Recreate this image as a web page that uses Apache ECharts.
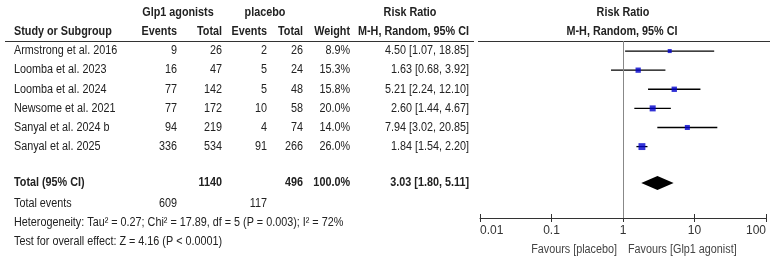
<!DOCTYPE html>
<html>
<head>
<meta charset="utf-8">
<script src="https://cdn.jsdelivr.net/npm/echarts@6/dist/echarts.min.js"></script>
<style>
  html, body { margin: 0; padding: 0; background: #fff; }
  #chart { width: 774px; height: 259px; }
</style>
</head>
<body>
<div id="chart"></div>
<script>
// 数据
const studies = ['Armstrong et al. 2016', 'Loomba et al. 2023', 'Loomba et al. 2024',
  'Newsome et al. 2021', 'Sanyal et al. 2024 b', 'Sanyal et al. 2025'];
const glpEvents = [9, 16, 77, 77, 94, 336];
const glpTotal = [26, 47, 142, 172, 219, 534];
const plaEvents = [2, 5, 5, 10, 4, 91];
const plaTotal = [26, 24, 48, 58, 74, 266];
const weights = [8.9, 15.3, 15.8, 20.0, 14.0, 26.0];
const rr = [4.50, 1.63, 5.21, 2.60, 7.94, 1.84];
const rrLow = [1.07, 0.68, 2.24, 1.44, 3.02, 1.54];
const rrHigh = [18.85, 3.92, 12.10, 4.67, 20.85, 2.20];

const totalLabel = 'Total (95% CI)';
const totalGlp = 1140;
const totalPla = 496;
const totalWeight = '100.0%';
const pooled = [1.80, 3.03, 5.11]; // low, est, high
const totalEventsGlp = 609;
const totalEventsPla = 117;
const heterogeneity = 'Heterogeneity: Tau² = 0.27; Chi² = 17.89, df = 5 (P = 0.003); I² = 72%';
const overallTest = 'Test for overall effect: Z = 4.16 (P < 0.0001)';
const tickLabels = ['0.01', '0.1', '1', '10', '100'];
const favours = ['Favours [placebo]', 'Favours [Glp1 agonist]'];

// 行位置（行号）
const totalRow = 6.9;
const eventsRow = 8;
const hetRow = 9;
const testRow = 10;

const FONT = '"Liberation Sans", Arial, sans-serif';
const NARROW = 0.9; // 模拟 Arial Narrow
const fmt = v => v.toFixed(2);

const chart = echarts.init(document.getElementById('chart'));

const ciData = studies.map((s, i) => [rrLow[i], rrHigh[i], i]);
const pointData = studies.map((s, i) => [rr[i], i, weights[i]]);

chart.setOption({
  animation: false,
  grid: { left: 480, right: 8, top: 41, bottom: 41 },
  xAxis: [{
    type: 'log', logBase: 10, min: 0.01, max: 100,
    axisLine: { onZero: false, lineStyle: { color: '#333', width: 1 } },
    axisTick: { length: 4, lineStyle: { color: '#333' } },
    splitLine: { show: false },
    axisLabel: {
      color: '#333', fontSize: 12, fontFamily: FONT, margin: 7,
      alignMinLabel: 'left', alignMaxLabel: 'right',
      formatter: v => tickLabels[Math.round(Math.log10(v)) + 2]
    }
  }, {
    type: 'log', logBase: 10, min: 0.01, max: 100, position: 'bottom',
    axisLine: { show: false, onZero: false },
    axisTick: { inside: true, length: 4, lineStyle: { color: '#333' } },
    axisLabel: { show: false }, splitLine: { show: false }
  }],
  yAxis: {
    type: 'value', inverse: true, min: -10 / 19, max: 166 / 19, show: false
  },
  series: [{
    type: 'custom',
    data: ciData,
    renderItem: (params, api) => {
      const a = api.coord([api.value(0), api.value(2)]);
      const b = api.coord([api.value(1), api.value(2)]);
      return {
        type: 'line',
        shape: { x1: a[0], y1: a[1], x2: b[0], y2: b[1] },
        style: { stroke: '#000', lineWidth: 1.3 }
      };
    },
    markLine: {
      silent: true, symbol: 'none', label: { show: false },
      lineStyle: { color: '#888', type: 'solid', width: 1 },
      data: [{ xAxis: 1 }]
    },
    z: 2
  }, {
    type: 'scatter',
    data: pointData,
    symbol: 'rect',
    symbolSize: d => 1.35 * Math.sqrt(d[2]),
    itemStyle: { color: '#0000cc' },
    z: 3
  }, {
    type: 'custom',
    data: [[pooled[0], pooled[1], pooled[2], totalRow]],
    renderItem: (params, api) => {
      const l = api.coord([api.value(0), api.value(3)]);
      const c = api.coord([api.value(1), api.value(3)]);
      const r = api.coord([api.value(2), api.value(3)]);
      const h = 7;
      return {
        type: 'polygon',
        shape: { points: [[l[0], l[1]], [c[0], c[1] - h], [r[0], r[1]], [c[0], c[1] + h]] },
        style: { fill: '#000' }
      };
    },
    z: 3
  }]
});

// 表格文字
const rowY = r => chart.convertToPixel({ yAxisIndex: 0 }, r);
const g = [];
function txt(text, x, r, align, bold, color) {
  g.push({
    type: 'text', silent: true,
    x: x, y: rowY(r), scaleX: NARROW,
    style: {
      text: String(text), x: 0, y: 0,
      font: (bold ? 'bold ' : '') + '12px ' + FONT,
      fill: color || '#222',
      align: align, textAlign: align,
      verticalAlign: 'middle', textVerticalAlign: 'middle'
    }
  });
}

// 表头
txt('Glp1 agonists', 178, -2, 'center', true);
txt('placebo', 265, -2, 'center', true);
txt('Risk Ratio', 410, -2, 'center', true);
txt('Risk Ratio', 623, -2, 'center', true);
txt('Study or Subgroup', 14, -1, 'left', true);
txt('Events', 177, -1, 'right', true);
txt('Total', 222, -1, 'right', true);
txt('Events', 267, -1, 'right', true);
txt('Total', 303, -1, 'right', true);
txt('Weight', 350, -1, 'right', true);
txt('M-H, Random, 95% CI', 469, -1, 'right', true);
txt('M-H, Random, 95% CI', 622, -1, 'center', true);

studies.forEach((s, i) => {
  txt(s, 14, i, 'left');
  txt(glpEvents[i], 177, i, 'right');
  txt(glpTotal[i], 222, i, 'right');
  txt(plaEvents[i], 267, i, 'right');
  txt(plaTotal[i], 303, i, 'right');
  txt(weights[i].toFixed(1) + '%', 350, i, 'right');
  txt(fmt(rr[i]) + ' [' + fmt(rrLow[i]) + ', ' + fmt(rrHigh[i]) + ']', 469, i, 'right');
});

txt(totalLabel, 14, totalRow, 'left', true);
txt(totalGlp, 222, totalRow, 'right', true);
txt(totalPla, 303, totalRow, 'right', true);
txt(totalWeight, 350, totalRow, 'right', true);
txt(fmt(pooled[1]) + ' [' + fmt(pooled[0]) + ', ' + fmt(pooled[2]) + ']', 469, totalRow, 'right', true);
txt('Total events', 14, eventsRow, 'left');
txt(totalEventsGlp, 177, eventsRow, 'right');
txt(totalEventsPla, 267, eventsRow, 'right');
txt(heterogeneity, 14, hetRow, 'left');
txt(overallTest, 14, testRow, 'left');

// Favours 标签
txt(favours[0], 617, 10.4, 'right', false, '#444');
txt(favours[1], 628, 10.4, 'left', false, '#444');

// 表头下划线
g.push({ type: 'line', silent: true, shape: { x1: 5, y1: 41.5, x2: 474, y2: 41.5 }, style: { stroke: '#333', lineWidth: 1 } });
g.push({ type: 'line', silent: true, shape: { x1: 478, y1: 41.5, x2: 770, y2: 41.5 }, style: { stroke: '#333', lineWidth: 1 } });

chart.setOption({ graphic: g });
</script>
</body>
</html>
